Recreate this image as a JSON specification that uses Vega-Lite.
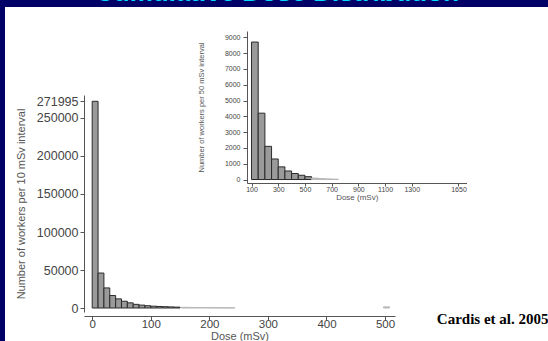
{
  "$schema": "https://vega.github.io/schema/vega-lite/v6.json",
  "autosize": "none",
  "width": 543,
  "height": 334,
  "padding": {"left": 5, "top": 7, "right": 0, "bottom": 0},
  "background": "#000066",
  "datasets": {
    "main": [
      {"dose_from": 0, "dose_to": 10, "workers": 271995},
      {"dose_from": 10, "dose_to": 20, "workers": 46000},
      {"dose_from": 20, "dose_to": 30, "workers": 26400},
      {"dose_from": 30, "dose_to": 40, "workers": 16400},
      {"dose_from": 40, "dose_to": 50, "workers": 12000},
      {"dose_from": 50, "dose_to": 60, "workers": 8900},
      {"dose_from": 60, "dose_to": 70, "workers": 6800},
      {"dose_from": 70, "dose_to": 80, "workers": 4800},
      {"dose_from": 80, "dose_to": 90, "workers": 3800},
      {"dose_from": 90, "dose_to": 100, "workers": 3000},
      {"dose_from": 100, "dose_to": 110, "workers": 2400},
      {"dose_from": 110, "dose_to": 120, "workers": 2000},
      {"dose_from": 120, "dose_to": 130, "workers": 1700},
      {"dose_from": 130, "dose_to": 140, "workers": 1400},
      {"dose_from": 140, "dose_to": 150, "workers": 1150}
    ],
    "mainTail": [
      {"dose_from": 150, "dose_to": 160, "workers": 900},
      {"dose_from": 160, "dose_to": 170, "workers": 800},
      {"dose_from": 170, "dose_to": 180, "workers": 700},
      {"dose_from": 180, "dose_to": 190, "workers": 600},
      {"dose_from": 190, "dose_to": 200, "workers": 520},
      {"dose_from": 200, "dose_to": 210, "workers": 450},
      {"dose_from": 210, "dose_to": 220, "workers": 380},
      {"dose_from": 220, "dose_to": 230, "workers": 320},
      {"dose_from": 230, "dose_to": 240, "workers": 260},
      {"dose_from": 490, "dose_to": 500, "workers": 1500}
    ],
    "inset": [
      {"dose_from": 100, "dose_to": 150, "workers": 8700},
      {"dose_from": 150, "dose_to": 200, "workers": 4200},
      {"dose_from": 200, "dose_to": 250, "workers": 2100},
      {"dose_from": 250, "dose_to": 300, "workers": 1300},
      {"dose_from": 300, "dose_to": 350, "workers": 800},
      {"dose_from": 350, "dose_to": 400, "workers": 540},
      {"dose_from": 400, "dose_to": 450, "workers": 380},
      {"dose_from": 450, "dose_to": 500, "workers": 270},
      {"dose_from": 500, "dose_to": 550, "workers": 180}
    ],
    "insetTail": [
      {"dose_from": 550, "dose_to": 600, "workers": 90},
      {"dose_from": 600, "dose_to": 650, "workers": 60},
      {"dose_from": 650, "dose_to": 700, "workers": 40},
      {"dose_from": 700, "dose_to": 750, "workers": 25}
    ]
  },
  "layer": [
    {
      "data": {"name": "main"},
      "mark": {"type": "bar", "fill": "#9a9a9a", "stroke": "#2a2a2a", "strokeWidth": 1},
      "encoding": {
        "x": {"field": "dose_from", "type": "quantitative",
          "scale": {"domain": [-14, 517], "range": [79, 390], "nice": false, "zero": false},
          "axis": {"orient": "bottom", "offset": -25, "values": [0, 100, 200, 300, 400, 500], "tickSize": 4, "labelPadding": -2, "labelFontSize": 11.5, "title": "Dose (mSv)", "titleFontSize": 11, "titlePadding": 1}},
        "x2": {"field": "dose_to"},
        "y": {"field": "workers", "type": "quantitative",
          "scale": {"domain": [-5263, 280263], "range": [305, 88], "nice": false, "zero": false},
          "axis": {"orient": "left", "offset": -79, "values": [0, 50000, 100000, 150000, 200000, 250000, 271995], "format": "d", "tickSize": 4, "labelPadding": 2, "labelFontSize": 12.5, "title": "Number of workers per 10 mSv interval", "titleFontSize": 11, "titlePadding": 10}},
        "y2": {"datum": 0}
      }
    },
    {
      "data": {"name": "mainTail"},
      "mark": {"type": "bar", "fill": "#b8b8b8", "stroke": "#b8b8b8", "strokeWidth": 1},
      "encoding": {
        "x": {"field": "dose_from", "type": "quantitative",
          "scale": {"domain": [-14, 766.7], "range": [79, 543], "nice": false, "zero": false},
          "axis": {"orient": "bottom", "offset": -18, "domain": false, "ticks": false, "labels": false, "title": "Cardis et al. 2005", "titleAnchor": "end", "titleFont": "Liberation Serif", "titleFontWeight": "bold", "titleFontSize": 15, "titleColor": "#000000", "titleBaseline": "alphabetic", "titlePadding": 0}},
        "x2": {"field": "dose_to"},
        "y": {"field": "workers", "type": "quantitative",
          "scale": {"domain": [-5263, 280263], "range": [305, 88], "nice": false, "zero": false},
          "axis": null},
        "y2": {"datum": 0}
      }
    },
    {
      "data": {"name": "inset"},
      "mark": {"type": "bar", "fill": "#9a9a9a", "stroke": "#2a2a2a", "strokeWidth": 1},
      "encoding": {
        "x": {"field": "dose_from", "type": "quantitative",
          "scale": {"domain": [66, 1710], "range": [242, 461.5], "nice": false, "zero": false},
          "axis": {"orient": "bottom", "offset": -158, "values": [100, 300, 500, 700, 900, 1100, 1300, 1650], "format": "d", "tickSize": 3, "labelPadding": -1, "labelFontSize": 7, "title": "Dose (mSv)", "titleFontSize": 8, "titlePadding": 1}},
        "x2": {"field": "dose_to"},
        "y": {"field": "workers", "type": "quantitative",
          "scale": {"domain": [-220, 9400], "range": [176, 24], "nice": false, "zero": false},
          "axis": {"orient": "left", "offset": -242, "values": [0, 1000, 2000, 3000, 4000, 5000, 6000, 7000, 8000, 9000], "format": "d", "tickSize": 4, "labelPadding": 3, "labelFontSize": 7, "title": "Number of workers per 50 mSv interval", "titleFontSize": 7.5, "titlePadding": 19}},
        "y2": {"datum": 0}
      }
    },
    {
      "data": {"name": "insetTail"},
      "mark": {"type": "bar", "fill": "#b8b8b8", "stroke": "#b8b8b8", "strokeWidth": 1},
      "encoding": {
        "x": {"field": "dose_from", "type": "quantitative",
          "scale": {"domain": [-1746, 2321], "range": [0, 543], "nice": false, "zero": false},
          "axis": {"orient": "top", "offset": 0, "domain": false, "ticks": false, "labels": false, "title": "Cumulative Dose Distribution", "titleFont": "Liberation Sans", "titleFontWeight": "bold", "titleFontSize": 26, "titleColor": "#00d8ff", "titleBaseline": "alphabetic", "titlePadding": 6.5}},
        "x2": {"field": "dose_to"},
        "y": {"field": "workers", "type": "quantitative",
          "scale": {"domain": [-220, 9400], "range": [176, 24], "nice": false, "zero": false},
          "axis": null},
        "y2": {"datum": 0}
      }
    }
  ],
  "resolve": {
    "scale": {"x": "independent", "y": "independent"},
    "axis": {"x": "independent", "y": "independent"}
  },
  "config": {
    "view": {"fill": "#ffffff", "stroke": null},
    "axis": {
      "grid": false,
      "domainColor": "#555555",
      "tickColor": "#555555",
      "labelColor": "#444444",
      "titleColor": "#555555",
      "labelFont": "Liberation Sans",
      "titleFont": "Liberation Sans",
      "titleFontWeight": "normal",
      "labelOverlap": false,
      "labelFlush": false
    }
  }
}
